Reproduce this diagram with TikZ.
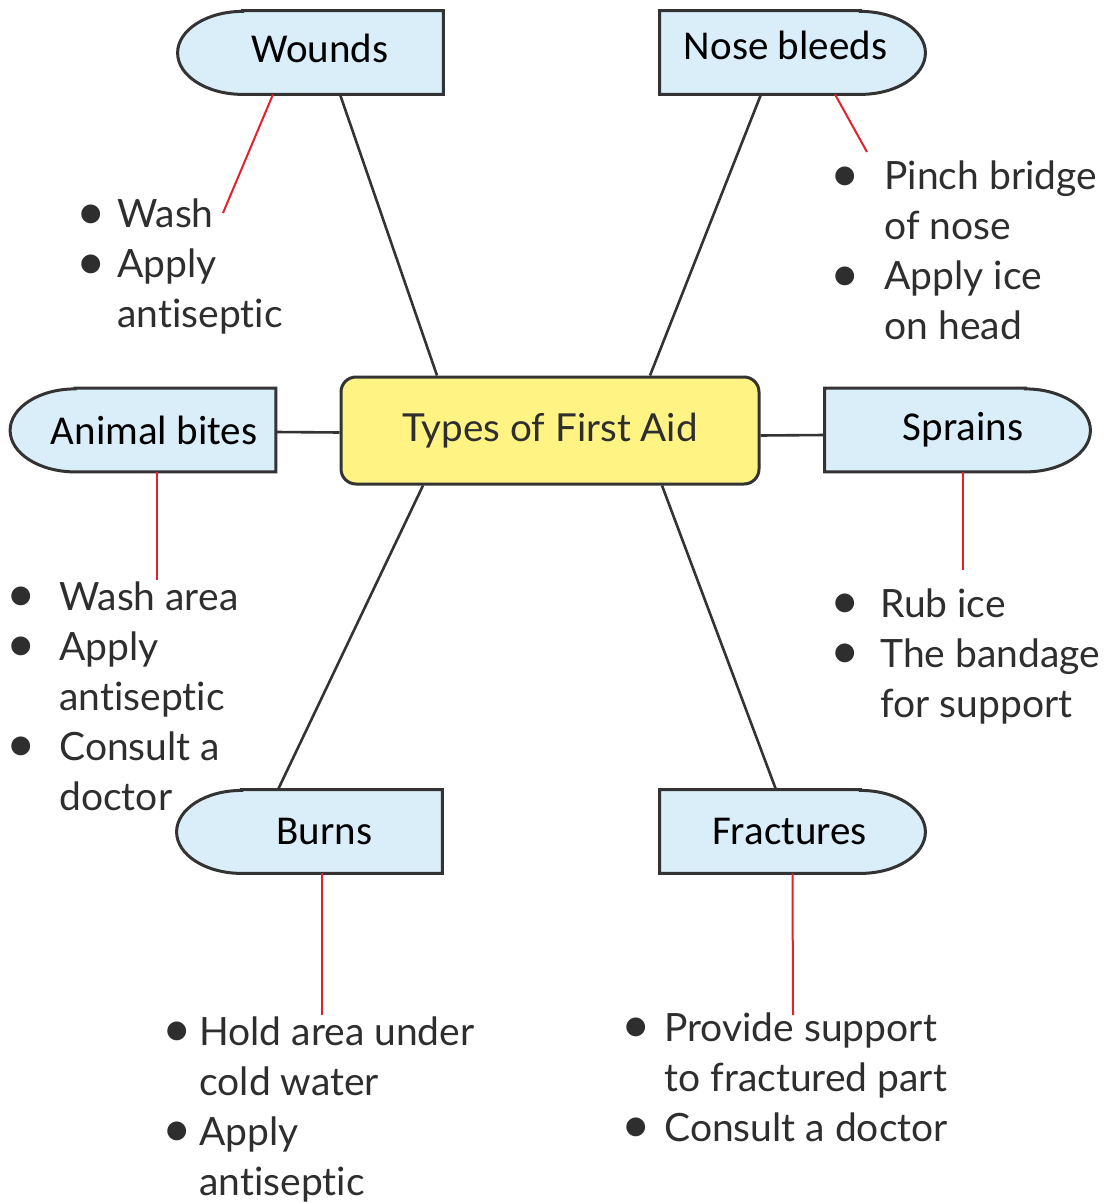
\documentclass[tikz,border=0pt]{standalone}
\usepackage{fontspec}
\usetikzlibrary{calc}
\newfontfamily\boxfont{Carlito}
\newfontfamily\listfont[RawFeature={-liga;-calt;-dlig}]{Lato}
\definecolor{faBlue}{HTML}{DAEEFA}
\definecolor{faYellow}{HTML}{FFF383}
\definecolor{faRed}{HTML}{E3202B}
\definecolor{faLine}{HTML}{333333}
\definecolor{faText}{HTML}{2E2E2E}
\pgfdeclarelayer{background}
\pgfsetlayers{background,main}
% box with one elliptic end
\newcommand{\lcap}[1]{\draw[boxline] ([xshift=32.5pt]#1.north west) -- (#1.north east) -- (#1.south east) -- ([xshift=32.5pt]#1.south west) arc[start angle=270, end angle=90, x radius=32.5pt, y radius=20.75pt] -- cycle;}
\newcommand{\rcap}[1]{\draw[boxline] ([xshift=-32.5pt]#1.north east) -- (#1.north west) -- (#1.south west) -- ([xshift=-32.5pt]#1.south east) arc[start angle=-90, end angle=90, x radius=32.5pt, y radius=20.75pt] -- cycle;}
\newcommand{\itm}[2]{\makebox[#1][l]{\hspace*{-3.5pt}\raisebox{-0.6pt}{\scalebox{1.3}{\textbullet}}}#2}
\newcommand{\cnt}[2]{\hspace*{#1}#2}

\begin{document}
\begin{tikzpicture}[x=0.5pt, y=-0.5pt,
    capbox/.style={rectangle, minimum width=132.5pt, minimum height=41.5pt, inner sep=0pt,
        font=\boxfont\fontsize{20.5}{24}\selectfont, text=black},
    boxline/.style={draw=faLine, line width=1.5pt, fill=faBlue},
    aidbox/.style={draw=faLine, line width=1.5pt, fill=faYellow, rounded corners=7.5pt,
        minimum width=209pt, minimum height=53.5pt, inner sep=0pt,
        font=\listfont\fontsize{19.3}{24}\selectfont, text=faText},
    listtext/.style={anchor=base west, inner sep=0pt, text=faText,
        font=\listfont\fontsize{19.5}{25}\selectfont},
    link/.style={draw=faLine, line width=1.3pt},
    note/.style={draw=faRed, line width=1pt}]
    \useasboundingbox (0,0) rectangle (1114,1203);

    % centre
    \node[aidbox] (aid) at (550,430.5) {Types of First Aid};

    % the six kinds
    \node[capbox] (wounds) at (310.5,52.5) {\hspace*{9.5pt}\raisebox{4.5pt}{Wounds}};
    \node[capbox] (nose) at (792.5,52.5) {\raisebox{7.5pt}{Nose bleeds}\hspace*{7pt}};
    \node[capbox] (animal) at (143,430) {\hspace*{11pt}Animal bites};
    \node[capbox] (sprains) at (957.5,430) {\hspace*{5.5pt}Sprains};
    \node[capbox] (burns) at (309.5,831.5) {\hspace*{15pt}Burns};
    \node[capbox] (fractures) at (792.5,831.5) {Fractures\hspace*{3pt}};

    \begin{pgfonlayer}{background}
        \lcap{wounds}
        \rcap{nose}
        \lcap{animal}
        \rcap{sprains}
        \lcap{burns}
        \rcap{fractures}
    \end{pgfonlayer}

    % links to the centre
    \draw[link] ([xshift=14.75pt]wounds.south) -- ([xshift=-56.5pt]aid.north);
    \draw[link] ([xshift=-15.75pt]nose.south) -- ([xshift=50pt]aid.north);
    \draw[link] ([yshift=-1pt]animal.east) -- ([yshift=-1pt]aid.west);
    \draw[link] ([yshift=-2.5pt]sprains.west) -- ([yshift=-2.5pt]aid.east);
    \draw[link] ([xshift=-15.75pt]burns.north) -- ([xshift=-63.5pt]aid.south);
    \draw[link] ([xshift=-8.25pt]fractures.north) -- ([xshift=56pt]aid.south);

    % what to do
    \node[listtext] (woundslist) at (83,228) {\begin{tabular}[t]{@{}l@{}}
        \itm{17pt}{Wash}\\ \itm{17pt}{Apply}\\ \cnt{17pt}{antiseptic}\end{tabular}};
    \node[listtext] (noselist) at (837,190) {\begin{tabular}[t]{@{}l@{}}
        \itm{23.5pt}{Pinch bridge}\\ \cnt{23.5pt}{of nose}\\ \itm{23.5pt}{Apply ice}\\ \cnt{23.5pt}{on head}\end{tabular}};
    \node[listtext] (animallist) at (13,610) {\begin{tabular}[t]{@{}l@{}}
        \itm{23pt}{Wash area}\\ \itm{23pt}{Apply}\\ \cnt{23pt}{antiseptic}\\ \itm{23pt}{Consult a}\\ \cnt{23pt}{doctor}\end{tabular}};
    \node[listtext] (sprainslist) at (837,617) {\begin{tabular}[t]{@{}l@{}}
        \itm{21.5pt}{Rub ice}\\ \itm{21.5pt}{The bandage}\\ \cnt{21.5pt}{for support}\end{tabular}};
    \node[listtext] (burnslist) at (169,1045) {\begin{tabular}[t]{@{}l@{}}
        \itm{15pt}{Hold area under}\\ \cnt{15pt}{cold water}\\ \itm{15pt}{Apply}\\ \cnt{15pt}{antiseptic}\end{tabular}};
    \node[listtext] (fractureslist) at (628,1041) {\begin{tabular}[t]{@{}l@{}}
        \itm{18pt}{Provide support}\\ \cnt{18pt}{to fractured part}\\ \itm{18pt}{Consult a doctor}\end{tabular}};

    % red pointers
    \coordinate (woundsend) at (223,213);
    \coordinate (noseend) at (867,152);
    \coordinate (animalend) at (157,580);
    \coordinate (sprainsend) at (963,570);
    \coordinate (burnsend) at (322,1015);
    \coordinate (fracturesend) at (793,1015);
    \draw[note] ([xshift=-18.75pt]wounds.south) -- (woundsend);
    \draw[note] ([xshift=21.25pt]nose.south) -- (noseend);
    \draw[note] ([xshift=7pt]animal.south) -- (animalend);
    \draw[note] ([xshift=2.75pt]sprains.south) -- (sprainsend);
    \draw[note] ([xshift=6.25pt]burns.south) -- (burnsend);
    \draw[note] (fractures.south) -- (fracturesend);
\end{tikzpicture}
\end{document}
